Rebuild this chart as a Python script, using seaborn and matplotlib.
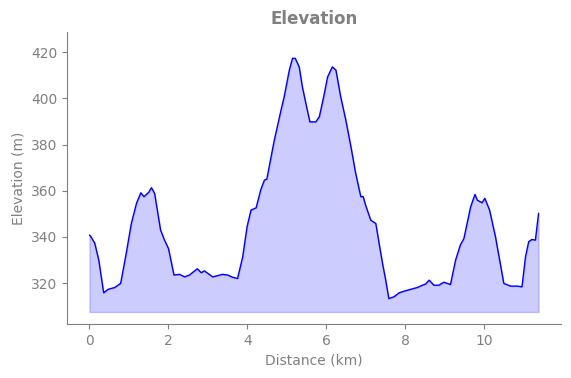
import matplotlib
matplotlib.use("Agg")
import matplotlib.pyplot as plt
import seaborn as sns
import pandas as pd
import numpy as np

# Elevation profile
distance_km = [
    0.00, 0.03, 0.135, 0.235, 0.36, 0.47, 0.64, 0.79, 0.93, 1.06, 1.19, 1.30,
    1.38, 1.50, 1.57, 1.65, 1.80, 1.90, 2.00, 2.14, 2.28, 2.41, 2.53, 2.73,
    2.83, 2.91, 3.12, 3.37, 3.50, 3.63, 3.75, 3.88, 3.99, 4.09, 4.22, 4.34,
    4.43, 4.49, 4.68, 4.85, 4.93, 5.06, 5.14, 5.21, 5.31, 5.39, 5.47, 5.58,
    5.73, 5.82, 5.93, 6.03, 6.15, 6.24, 6.36, 6.49, 6.62, 6.74, 6.87, 6.93,
    6.99, 7.12, 7.25, 7.33, 7.42, 7.50, 7.58, 7.71, 7.84, 7.96, 8.13, 8.30,
    8.43, 8.51, 8.60, 8.72, 8.85, 8.97, 9.14, 9.27, 9.39, 9.48, 9.65, 9.76,
    9.82, 9.94, 10.01, 10.13, 10.28, 10.40, 10.49, 10.66, 10.83, 10.95, 11.04,
    11.12, 11.20, 11.29, 11.37,
]
elevation_m = [
    340.8, 340.3, 337.2, 330.0, 315.8, 317.3, 318.1, 319.9, 332.8, 345.8, 354.5, 359.1,
    357.4, 359.3, 361.3, 358.8, 343.0, 338.6, 335.0, 323.5, 323.8, 322.7, 323.5, 326.2,
    324.5, 325.3, 322.7, 323.8, 323.5, 322.5, 322.0, 331.4, 344.4, 351.6, 352.6, 360.6,
    364.6, 365.0, 381.9, 394.9, 400.7, 412.2, 417.3, 417.3, 413.6, 405.0, 398.5, 389.8,
    389.8, 392.0, 400.7, 409.3, 413.6, 412.2, 400.7, 390.6, 379.0, 367.5, 357.4, 357.5,
    353.8, 347.3, 345.8, 337.5, 328.5, 321.3, 313.3, 314.1, 315.8, 316.5, 317.3, 318.1,
    319.1, 319.6, 321.3, 319.1, 319.1, 320.4, 319.4, 330.0, 336.5, 339.3, 353.0, 358.4,
    355.9, 354.8, 356.7, 351.6, 340.0, 328.5, 319.9, 318.7, 318.7, 318.4, 331.4,
    337.9, 338.9, 338.6, 350.2,
]
fill_base = 307.5

df = pd.DataFrame({"Distance (km)": distance_km, "Elevation (m)": elevation_m})

sns.set_style("ticks")
grey = "#808080"
plt.rcParams["font.family"] = ["DejaVu Sans"]

fig, ax = plt.subplots(figsize=(5.71, 3.78), dpi=100)
ax.fill_between(df["Distance (km)"], fill_base, df["Elevation (m)"], color="blue", alpha=0.2)
sns.lineplot(data=df, x="Distance (km)", y="Elevation (m)", color="blue", linewidth=1.0, ax=ax)

ax.set_ylim(302.3, 428.7)
ax.set_yticks([320, 340, 360, 380, 400, 420])
ax.set_xticks([0, 2, 4, 6, 8, 10])

ax.set_title("Elevation", color=grey, fontweight="bold", fontsize=12)
ax.set_xlabel("Distance (km)", color=grey, fontsize=10)
ax.set_ylabel("Elevation (m)", color=grey, fontsize=10)
ax.tick_params(colors=grey, labelcolor=grey, labelsize=10)
for side in ["left", "bottom"]:
    ax.spines[side].set_color(grey)
sns.despine(ax=ax)

fig.subplots_adjust(left=67 / 571, right=561 / 571, top=1 - 32 / 378, bottom=1 - 324 / 378)
fig.savefig("out.png", dpi=100)
